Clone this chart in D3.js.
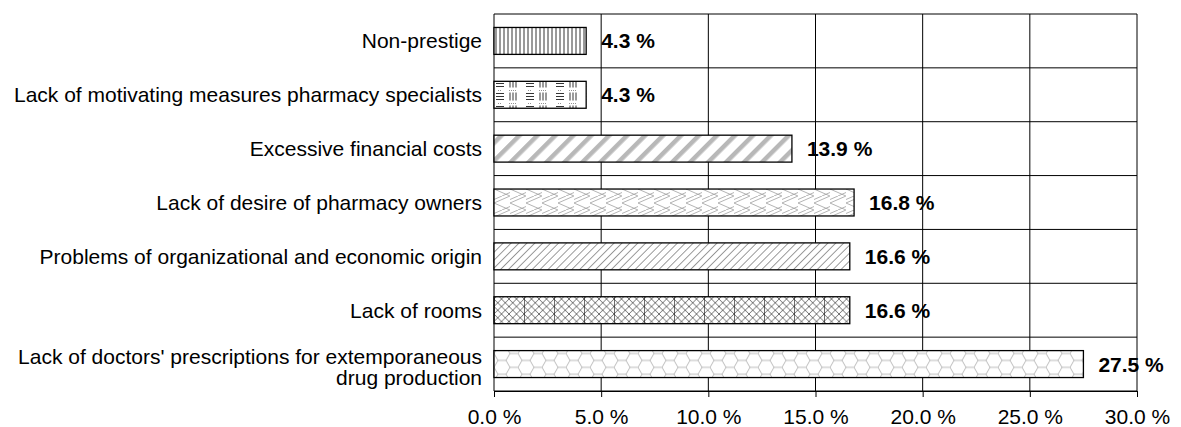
<!DOCTYPE html>
<html>
<head>
<meta charset="utf-8">
<script src="https://d3js.org/d3.v7.min.js"></script>
<style>
  body { margin: 0; background: #fff; }
  text { font-family: "Liberation Sans", Arial, sans-serif; }
</style>
</head>
<body>
<div id="chart-area"></div>
<script>
// data, top to bottom
const categories = [
  "Non-prestige",
  "Lack of motivating measures pharmacy specialists",
  "Excessive financial costs",
  "Lack of desire of pharmacy owners",
  "Problems of organizational and economic origin",
  "Lack of rooms",
  "Lack of doctors' prescriptions for extemporaneous\ndrug production"
]
const values = [4.3, 4.3, 13.9, 16.8, 16.6, 16.6, 27.5]
const patternIds = ["pVert", "pMotiv", "pStripe", "pHerring", "pHatch", "pCross", "pHex"]
const xTicks = [0, 5, 10, 15, 20, 25, 30]

const MARGIN = { LEFT: 494, RIGHT: 44, TOP: 14, BOTTOM: 36 }
const WIDTH = 1181 - MARGIN.LEFT - MARGIN.RIGHT
const HEIGHT = 427 - MARGIN.TOP - MARGIN.BOTTOM
const FONT = "21px"

const svg = d3.select("#chart-area").append("svg")
  .attr("width", WIDTH + MARGIN.LEFT + MARGIN.RIGHT)
  .attr("height", HEIGHT + MARGIN.TOP + MARGIN.BOTTOM)

// fill patterns
const defs = svg.append("defs")

const pat = (id, w, h, transform) => {
  const p = defs.append("pattern")
    .attr("id", id)
    .attr("patternUnits", "userSpaceOnUse")
    .attr("width", w)
    .attr("height", h)
  if (transform) p.attr("patternTransform", transform)
  p.append("rect").attr("width", w).attr("height", h).attr("fill", "#fff")
  return p
}

// vertical lines
pat("pVert", 4, 4).append("line")
  .attr("x1", 2).attr("x2", 2).attr("y1", 0).attr("y2", 4)
  .attr("stroke", "#000").attr("stroke-width", 0.8)

// groups of horizontal / vertical dashes
const pm = pat("pMotiv", 30, 13)
;[1.5, 4.5, 7.5].forEach(yy => pm.append("line")
  .attr("x1", 2).attr("x2", 10).attr("y1", yy).attr("y2", yy)
  .attr("stroke", "#000").attr("stroke-width", 0.8))
;[16, 19, 22].forEach(xx => pm.append("line")
  .attr("x1", xx).attr("x2", xx).attr("y1", 0.5).attr("y2", 8.5)
  .attr("stroke", "#000").attr("stroke-width", 0.8))
pm.append("line").attr("x1", 4).attr("x2", 8).attr("y1", 11.5).attr("y2", 11.5)
  .attr("stroke", "#777").attr("stroke-width", 0.8).attr("stroke-dasharray", "1,1")
pm.append("line").attr("x1", 15).attr("x2", 23).attr("y1", 11.5).attr("y2", 11.5)
  .attr("stroke", "#777").attr("stroke-width", 0.8).attr("stroke-dasharray", "1,1")

// wide grey stripes
pat("pStripe", 12.7, 10, "rotate(45)").append("rect")
  .attr("x", 0).attr("y", 0).attr("width", 4.5).attr("height", 10)
  .attr("fill", "#b8b8b8")

// herringbone
pat("pHerring", 16, 14).append("path")
  .attr("d", "M16,0 L0,7 L16,14 M8,0 L0,3.5 M16,10.5 L8,14")
  .attr("fill", "none").attr("stroke", "#a0a0a0").attr("stroke-width", 0.8)

// fine diagonal hatch
pat("pHatch", 5.6, 10, "rotate(45)").append("line")
  .attr("x1", 0).attr("x2", 0).attr("y1", 0).attr("y2", 10)
  .attr("stroke", "#000").attr("stroke-width", 0.8)

// cross hatch with vertical dividers
const pc = pat("pCross", 30, 7.5)
let cd = ""
for (let k = -1; k < 5; k++) {
  cd += `M${k * 7.5},0 L${k * 7.5 + 7.5},7.5 M${k * 7.5 + 7.5},0 L${k * 7.5},7.5 `
}
pc.append("path").attr("d", cd + "M0.5,0 L0.5,7.5")
  .attr("fill", "none").attr("stroke", "#333").attr("stroke-width", 0.7)

// honeycomb
const s = 8, hh = s * Math.sqrt(3)
pat("pHex", 3 * s, hh).append("path")
  .attr("d", `M0,${hh / 2} L${s / 2},0 L${1.5 * s},0 L${2 * s},${hh / 2} L${1.5 * s},${hh} L${s / 2},${hh} Z M${2 * s},${hh / 2} L${3 * s},${hh / 2}`)
  .attr("fill", "none").attr("stroke", "#aaa").attr("stroke-width", 0.8)

const g = svg.append("g")
  .attr("transform", `translate(${MARGIN.LEFT}, ${MARGIN.TOP})`)

// Scales
const x = d3.scaleLinear()
  .domain([0, 30])
  .range([0, WIDTH])
const y = d3.scaleBand()
  .domain(categories)
  .range([0, HEIGHT])
  .paddingInner(0.5)
  .paddingOuter(0.25)

// grid
g.selectAll(".vgrid").data(xTicks).enter().append("line")
  .attr("class", "vgrid")
  .attr("x1", d => x(d)).attr("x2", d => x(d))
  .attr("y1", 0).attr("y2", HEIGHT)
  .attr("stroke", "#000").attr("stroke-width", 1)
g.selectAll(".hgrid").data(d3.range(categories.length + 1)).enter().append("line")
  .attr("class", "hgrid")
  .attr("x1", 0).attr("x2", WIDTH)
  .attr("y1", i => i * y.step()).attr("y2", i => i * y.step())
  .attr("stroke", "#000").attr("stroke-width", 1)

// X Axis
const xAxisCall = d3.axisBottom(x)
  .tickValues(xTicks)
  .tickSizeInner(6)
  .tickSizeOuter(0)
  .tickPadding(12)
  .tickFormat(d => d3.format(".1f")(d) + " %")
const xAxis = g.append("g")
  .attr("class", "x axis")
  .attr("transform", `translate(0, ${HEIGHT})`)
  .call(xAxisCall)
xAxis.select(".domain").attr("stroke", "#000")
xAxis.selectAll("line").attr("stroke", "#000")
xAxis.selectAll("text")
  .attr("font-size", FONT)
  .attr("fill", "#000")
  .style("font-family", "'Liberation Sans', Arial, sans-serif")

// bars
g.selectAll("rect.bar").data(categories).enter().append("rect")
  .attr("class", "bar")
  .attr("x", 0)
  .attr("y", d => y(d))
  .attr("width", (d, i) => x(values[i]))
  .attr("height", y.bandwidth())
  .attr("fill", (d, i) => `url(#${patternIds[i]})`)
  .attr("stroke", "#000")
  .attr("stroke-width", 1.3)

// value labels
g.selectAll("text.val").data(categories).enter().append("text")
  .attr("class", "val")
  .attr("x", (d, i) => x(values[i]) + 15)
  .attr("y", d => y(d) + y.bandwidth() / 2)
  .attr("dy", "0.36em")
  .attr("font-size", FONT)
  .attr("font-weight", "bold")
  .text((d, i) => d3.format(".1f")(values[i]) + " %")

// category labels
const catLabels = g.selectAll("text.cat").data(categories).enter().append("text")
  .attr("class", "cat")
  .attr("text-anchor", "end")
  .attr("font-size", FONT)
  .attr("y", d => y(d) + y.bandwidth() / 2)
catLabels.each(function(d) {
  const lines = d.split("\n")
  const t = d3.select(this)
  lines.forEach((ln, k) => {
    t.append("tspan")
      .attr("x", -12)
      .attr("dy", lines.length === 1 ? "0.36em" : (k === 0 ? "0.02em" : "1.0em"))
      .text(ln)
  })
})
</script>
</body>
</html>
